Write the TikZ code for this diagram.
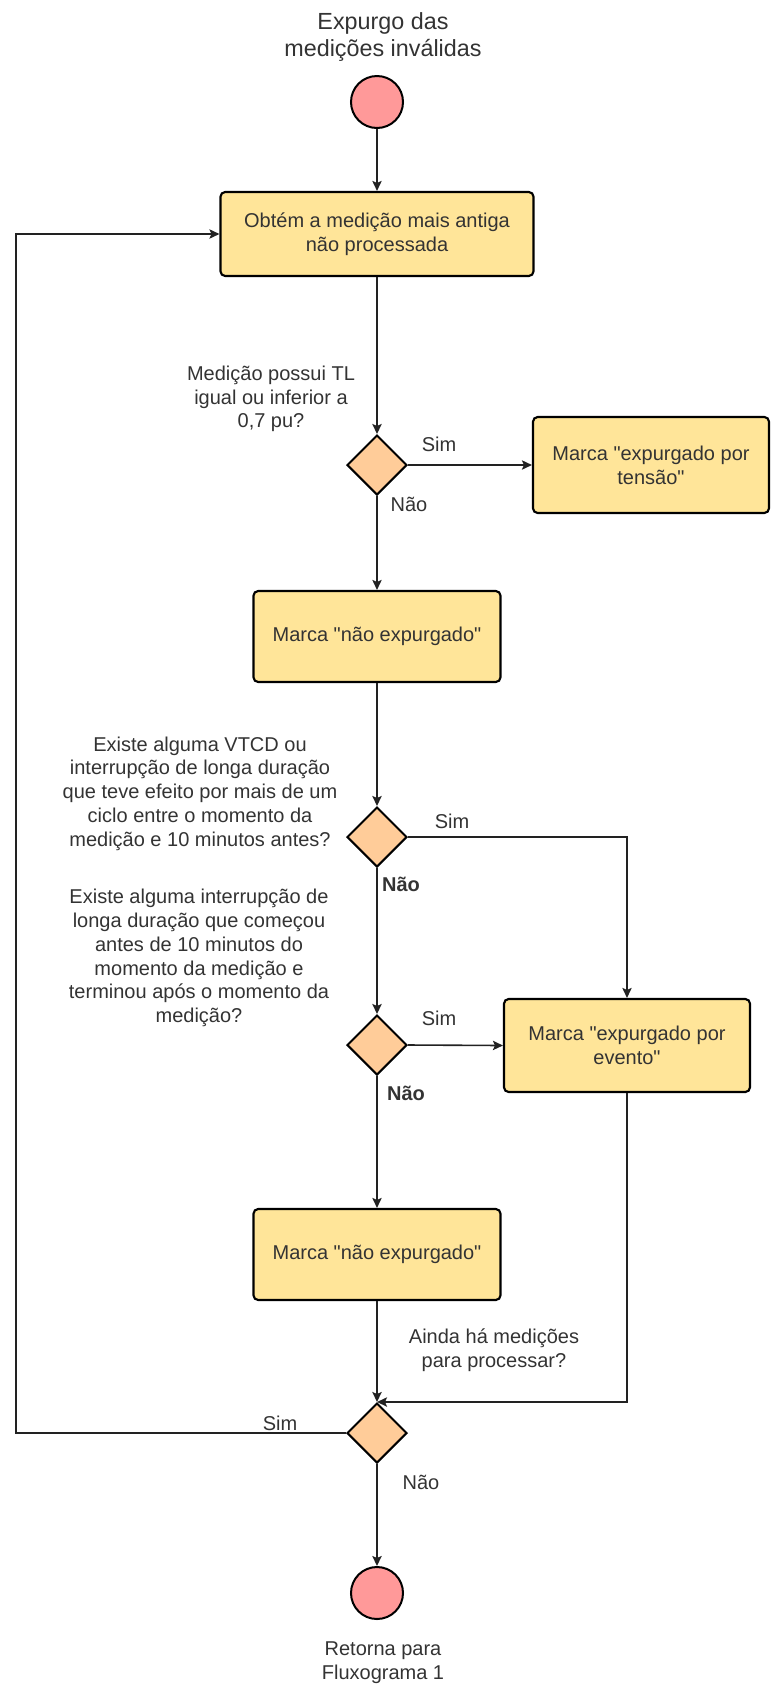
\documentclass[tikz,border=0pt]{standalone}
\usepackage{fontspec}
\setmainfont{Liberation Sans}
\usetikzlibrary{shapes.geometric,arrows.meta}
\definecolor{boxfill}{HTML}{FFE599}
\definecolor{decfill}{HTML}{FFCC99}
\definecolor{termfill}{HTML}{FF9999}
\definecolor{txt}{HTML}{333333}
\definecolor{wire}{HTML}{222222}
\newcommand{\dq}{\textquotedbl}
\tikzset{
  basefont/.style={font=\fontsize{15}{17.8}\selectfont, text=txt},
  procbox/.style={draw=black, line width=1.6pt, fill=boxfill, rounded corners=3.5pt,
    align=center, inner sep=0pt, basefont},
  decision/.style={diamond, draw=black, line width=1.5pt, fill=decfill, inner sep=0pt,
    minimum width=45pt, minimum height=45pt},
  terminal/.style={circle, draw=black, line width=1.5pt, fill=termfill, inner sep=0pt,
    minimum size=39pt},
  note/.style={align=center, inner sep=0pt, basefont},
  answer/.style={inner sep=0pt, basefont},
  arr/.style={draw=wire, line width=1.2pt, -{Stealth[length=7.5pt, width=7pt, inset=1.5pt]}},
}
\begin{document}
\begin{tikzpicture}[x=0.75pt, y=-0.75pt]
\useasboundingbox (0,0) rectangle (771,1686);

% title and start
\node[note, font=\fontsize{17.5}{20.3}\selectfont] (title) at (383,37) {Expurgo das\\medições inválidas};
\node[terminal] (start) at (377,102) {};

% main column
\node[procbox, minimum width=234.75pt, minimum height=63pt] (b1) at (377,234)
  {Obtém a medição mais antiga\\não processada};
\node[decision] (d1) at (377,465) {};
\node[procbox, minimum width=177pt, minimum height=72pt] (bt) at (651,465)
  {Marca \dq expurgado por\\tensão\dq};
\node[procbox, minimum width=185.25pt, minimum height=68.25pt] (ne1) at (377,636.5)
  {Marca \dq não expurgado\dq};
\node[decision] (d2) at (377,837) {};
\node[decision] (d3) at (377,1045) {};
\node[procbox, minimum width=184.5pt, minimum height=69.75pt] (ev) at (627,1045.5)
  {Marca \dq expurgado por\\evento\dq};
\node[procbox, minimum width=185.25pt, minimum height=68.25pt] (ne2) at (377,1254.5)
  {Marca \dq não expurgado\dq};
\node[decision] (d4) at (377,1433) {};
\node[terminal] (end) at (377,1593) {};
\node[note] (endtxt) at (383,1663) {Retorna para\\Fluxograma 1};

% questions
\node[note] (q1) at (271,399) {Medição possui TL\\igual ou inferior a\\0,7 pu?};
\node[note] (q2) at (200,793.5) {Existe alguma VTCD ou\\interrupção de longa duração\\que teve efeito por mais de um\\ciclo entre o momento da\\medição e 10 minutos antes?};
\node[note] (q3) at (199,958) {Existe alguma interrupção de\\longa duração que começou\\antes de 10 minutos do\\momento da medição e\\terminou após o momento da\\medição?};
\node[note] (q4) at (494,1350) {Ainda há medições\\para processar?};

% branch labels
\node[answer] (s1) at (439,444) {Sim};
\node[answer] (n1) at (409,504) {Não};
\node[answer] (s2) at (452,821) {Sim};
\node[answer, font=\fontsize{15}{17.8}\selectfont\bfseries] (n2) at (401,884) {Não};
\node[answer] (s3) at (439,1018) {Sim};
\node[answer, font=\fontsize{15}{17.8}\selectfont\bfseries] (n3) at (406,1093) {Não};
\node[answer] (s4) at (280,1423) {Sim};
\node[answer] (n4) at (421,1482) {Não};

% connectors
\coordinate (loop) at (16,1433);
\draw[arr] (start) -- (b1);
\draw[arr] (b1) -- (d1);
\draw[arr] (d1) -- (bt);
\draw[arr] (d1) -- (ne1);
\draw[arr] (ne1) -- (d2);
\draw[arr] (d2.east) -| (ev.north);
\draw[arr] (d2) -- (d3);
\draw[arr] (d3.east) -- (ev.west);
\draw[arr] (d3) -- (ne2);
\draw[arr] (ne2) -- (d4);
\draw[arr] (ev.south) |- (d4.north);
\draw[arr] (d4.west) -- (loop) |- (b1.west);
\draw[arr] (d4) -- (end);
\end{tikzpicture}
\end{document}
